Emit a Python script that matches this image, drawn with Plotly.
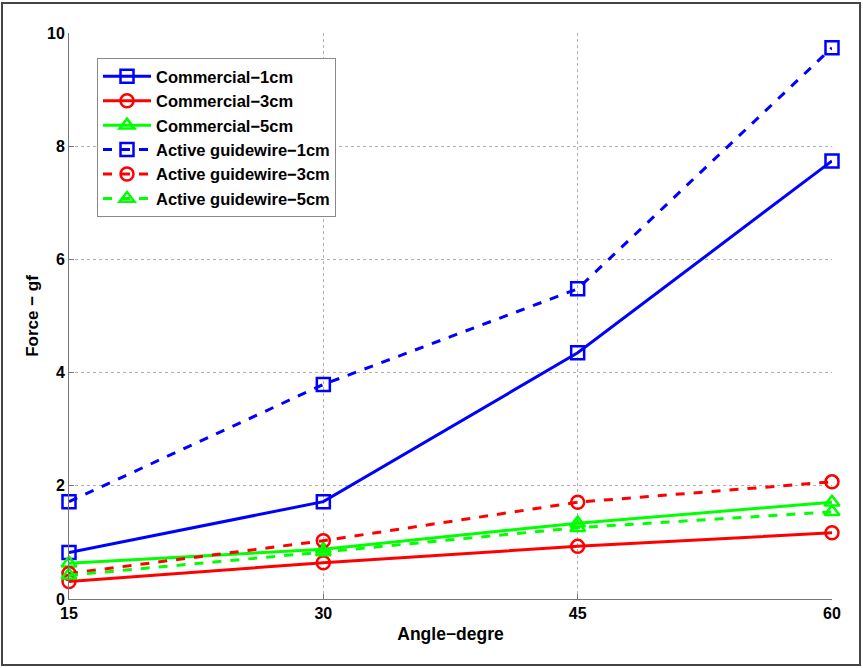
import plotly.graph_objects as go

angles = [15, 30, 45, 60]
commercial_1cm = [0.82, 1.72, 4.35, 7.74]
commercial_3cm = [0.31, 0.64, 0.93, 1.17]
commercial_5cm = [0.63, 0.88, 1.34, 1.71]
active_1cm = [1.72, 3.79, 5.48, 9.74]
active_3cm = [0.45, 1.03, 1.71, 2.07]
active_5cm = [0.42, 0.83, 1.26, 1.54]

names = ["Commercial−1cm", "Commercial−3cm", "Commercial−5cm",
         "Active guidewire−1cm", "Active guidewire−3cm", "Active guidewire−5cm"]
series = [commercial_1cm, commercial_3cm, commercial_5cm, active_1cm, active_3cm, active_5cm]
colors = ["#0000FF", "#FF0000", "#00FF00", "#0000FF", "#FF0000", "#00FF00"]
symbols = ["square-open", "circle-open", "triangle-up-open"] * 2
dashes = ["solid"] * 3 + ["dash"] * 3

fig = go.Figure()
for n, s, c, sym, d in zip(names, series, colors, symbols, dashes):
    fig.add_trace(go.Scatter(
        x=angles, y=s, name=n, mode="lines+markers",
        line=dict(color=c, width=3, dash=d),
        marker=dict(symbol=sym, size=13, color=c, line=dict(width=2.5, color=c)),
        cliponaxis=False,
    ))

font = "Liberation Sans, Arial, sans-serif"
L, R, T, B = 69, 832, 33, 599
W, H = 863, 668
pw, ph = R - L, B - T

def px(x):
    return (x - L) / pw

def py(y):
    return (B - y) / ph

fig.update_layout(
    width=W, height=H,
    margin=dict(l=L, r=W - R, t=T, b=H - B),
    paper_bgcolor="white", plot_bgcolor="white",
    font=dict(family=font, size=14, color="black"),
    showlegend=True,
    legend=dict(
        x=px(97), y=py(58), xanchor="left", yanchor="top",
        bgcolor="white", bordercolor="#888888", borderwidth=1,
        font=dict(family=font, size=16.5, color="black", weight="bold"),
        tracegroupgap=0, itemwidth=48,
    ),
    xaxis=dict(
        range=[15, 60], tickvals=angles, ticktext=[str(a) for a in angles],
        showgrid=True, gridcolor="#b0b0b0", griddash="dot", gridwidth=1,
        showline=True, linecolor="#777777", linewidth=1,
        ticks="inside", ticklen=5, tickcolor="#777777",
        zeroline=False,
        tickfont=dict(family=font, size=16, weight="bold"),
        title=dict(text="Angle−degre", font=dict(family=font, size=17.5, weight="bold"), standoff=6),
    ),
    yaxis=dict(
        range=[0, 10], tickvals=[0, 2, 4, 6, 8, 10],
        showgrid=True, gridcolor="#b0b0b0", griddash="dot", gridwidth=1,
        showline=True, linecolor="#777777", linewidth=1,
        ticks="inside", ticklen=5, tickcolor="#777777",
        zeroline=False,
        tickfont=dict(family=font, size=16, weight="bold"),
        title=dict(text="Force − gf", font=dict(family=font, size=17, weight="bold"), standoff=4),
    ),
    shapes=[dict(
        type="rect", xref="paper", yref="paper",
        x0=px(2), x1=px(860), y0=py(665), y1=py(3),
        line=dict(color="#444444", width=2), layer="below",
    )],
)

fig.write_html("out.html", config={"displayModeBar": False},
               post_script="document.body.style.margin='0';")
